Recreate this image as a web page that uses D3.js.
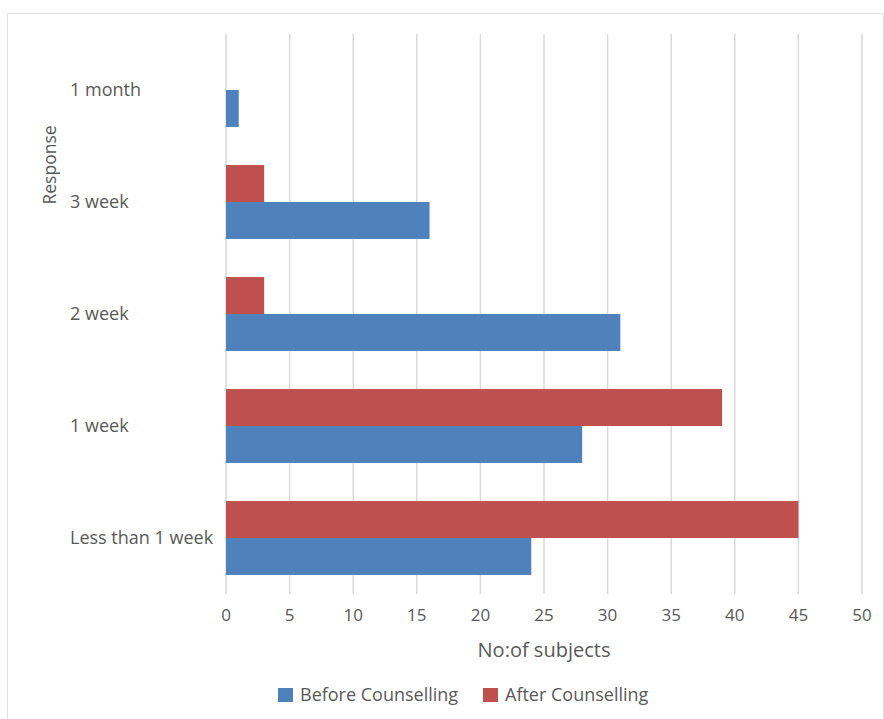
<!DOCTYPE html>
<html lang="en">
<head>
    <meta charset="UTF-8">
    <title>Response before and after counselling</title>
    <script src="https://d3js.org/d3.v7.min.js"></script>
    <style>
        body { margin: 0; background: #fff; }
        text { font-family: "Open Sans", sans-serif; fill: #595959; }
    </style>
</head>
<body>
    <svg width="884" height="719"></svg>
    <script>
        const width = 884;
        const height = 719;

        // Categories, top to bottom
        const categories = ["1 month", "3 week", "2 week", "1 week", "Less than 1 week"];
        const series = ["After Counselling", "Before Counselling"];
        const beforeValues = [1, 16, 31, 28, 24];
        const afterValues = [0, 3, 3, 39, 45];
        const xTicks = [0, 5, 10, 15, 20, 25, 30, 35, 40, 45, 50];
        const colors = {"Before Counselling": "#4f81bd", "After Counselling": "#c0504d"};

        const margin = {left: 226, right: 22, top: 34, bottom: 125};

        const svg = d3.select("svg");

        // chart border
        svg.append("rect")
            .attr("x", 7.5).attr("y", 13.5)
            .attr("width", 876).attr("height", 710)
            .attr("fill", "none")
            .attr("stroke", "#e3e3e3");

        const x = d3.scaleLinear()
            .domain([0, 50])
            .range([margin.left, width - margin.right]);

        const y = d3.scaleBand()
            .domain(categories)
            .range([margin.top, height - margin.bottom])
            .paddingInner(0.34)
            .paddingOuter(0.17);

        const ySub = d3.scaleBand()
            .domain(series)
            .range([0, y.bandwidth()]);

        // gridlines
        svg.append("g")
            .selectAll("line")
            .data(xTicks)
            .enter().append("line")
            .attr("x1", d => x(d)).attr("x2", d => x(d))
            .attr("y1", margin.top).attr("y2", height - margin.bottom)
            .attr("stroke", "#d9d9d9")
            .attr("stroke-width", 1.5);

        // bars
        const rows = categories.map((c, i) => ({
            cat: c,
            vals: [
                {s: "After Counselling", v: afterValues[i]},
                {s: "Before Counselling", v: beforeValues[i]}
            ]
        }));

        svg.append("g")
            .selectAll("g")
            .data(rows)
            .enter().append("g")
            .attr("transform", d => `translate(0,${y(d.cat)})`)
            .selectAll("rect")
            .data(d => d.vals)
            .enter().append("rect")
            .attr("x", x(0))
            .attr("y", d => ySub(d.s))
            .attr("width", d => x(d.v) - x(0))
            .attr("height", ySub.bandwidth())
            .attr("fill", d => colors[d.s]);

        // x tick labels
        svg.append("g")
            .selectAll("text")
            .data(xTicks)
            .enter().append("text")
            .attr("x", d => x(d))
            .attr("y", 615)
            .attr("dy", "0.35em")
            .attr("text-anchor", "middle")
            .style("font-size", "17px")
            .text(d => d);

        // category labels (left aligned like the original)
        svg.append("g")
            .selectAll("text")
            .data(categories)
            .enter().append("text")
            .attr("x", 70)
            .attr("y", d => y(d) + y.bandwidth() / 2)
            .attr("dy", "0.35em")
            .style("font-size", "18px")
            .text(d => d);

        // axis titles
        svg.append("text")
            .attr("x", 544).attr("y", 650)
            .attr("dy", "0.35em")
            .attr("text-anchor", "middle")
            .style("font-size", "20px")
            .text("No:of subjects");

        svg.append("text")
            .attr("transform", "translate(50,165) rotate(-90)")
            .attr("dy", "0.35em")
            .attr("text-anchor", "middle")
            .style("font-size", "17.5px")
            .text("Response");

        // legend
        const legendItems = [
            {s: "Before Counselling", x: 278},
            {s: "After Counselling", x: 483}
        ];
        const legend = svg.append("g")
            .selectAll("g")
            .data(legendItems)
            .enter().append("g")
            .attr("transform", d => `translate(${d.x},688)`);
        legend.append("rect")
            .attr("width", 15).attr("height", 14)
            .attr("fill", d => colors[d.s]);
        legend.append("text")
            .attr("x", 22).attr("y", 7)
            .attr("dy", "0.35em")
            .style("font-size", "18px")
            .text(d => d.s);
    </script>
</body>
</html>
